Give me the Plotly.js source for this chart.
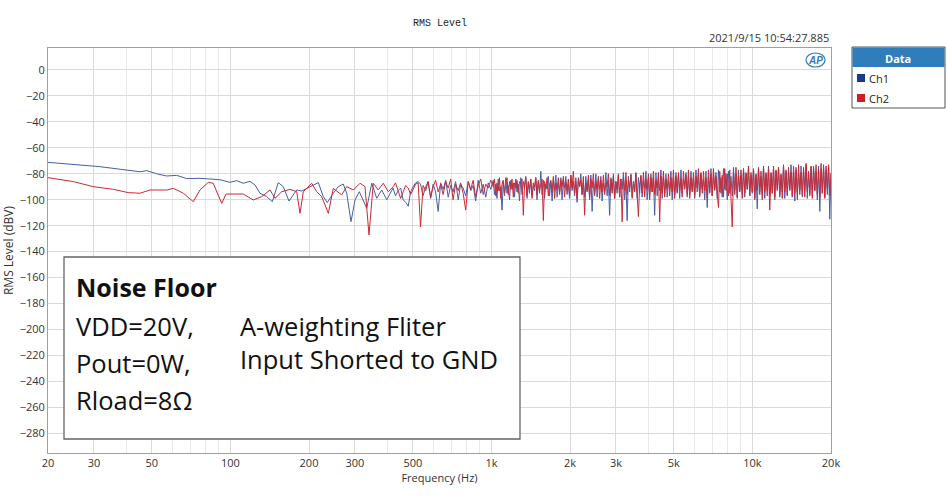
<!DOCTYPE html>
<html>
<head>
<meta charset="utf-8">
<script src="https://cdn.plot.ly/plotly-3.0.1.min.js"></script>
<style>html,body{margin:0;padding:0;background:#fff;}#chart{width:947px;height:500px;}</style>
</head>
<body>
<div id="chart"></div>
<script>
// ---- data ----
const freqLow1 = [20,22.2,25,31.6,37.8,45,47.8,52.2,57,62.2,68,76.4,83.5,91.2,99.6,105.7,112,118.8,124.2,129.8,137.7,144.7,152.5,159.4,167.6,179.5,187.6,196,201.8,210.8,217.1,226.9,235,247.8,259,270.7,278.9,289.7,300.1,311.7,322.9,332.8,347.8,363.5,379.9,397.2];
const ch1Low = [-71.2,-72,-73,-74.5,-76.5,-78.4,-77.6,-80,-81.7,-81.2,-83.7,-83.5,-84,-84.6,-86.6,-85.3,-87.3,-85.8,-88.6,-95,-97.6,-101.5,-86.8,-89.9,-101,-92.5,-93.3,-91.5,-89.9,-88.6,-86.8,-97.6,-102.2,-95,-89.9,-87.9,-95,-116.9,-100.2,-93.8,-100,-106.6,-87.3,-98.9,-92.5,-100];

const freqLow2 = [20,25,29.8,35.6,40.6,45,49.2,57,60.4,66,72.1,76.4,82.3,85.9,92.6,96.2,112,122.4,131.8,141.8,148.2,157.2,169.1,179.5,184.7,190.2,204.8,214,223.7,237.2,247.8,266.8,278.9,295.6,313.6,327.8,339.6,352.6,368.5,385.1,402.6];
const ch2Low = [-83,-86,-89.9,-92,-94.5,-95,-92.5,-92.5,-91.2,-95,-101.5,-92.5,-86.6,-87.3,-102.8,-95.6,-95.6,-100.2,-97.6,-92.5,-98.9,-93.8,-92,-93.8,-110.5,-93.8,-87.3,-93.8,-97.6,-110.5,-91.2,-96.3,-89.9,-92.5,-87.3,-89.9,-127.2,-87.3,-92.5,-87.3,-93.8];

const freqMid = [420,429,439,449,459,469,480,490,501,512,
524,535,547,560,572,585,598,611,625,639,
653,668,683,698,713,729,746,762,779,797,
815,833,851,870,890,910,930,951,972,994];
const ch1Mid = [-91,-97,-93,-91,-100,-102,-105,-94,-90,-87,
-86,-88,-97,-90,-86,-99,-88,-94,-109,-87,
-92,-85,-98,-89,-94,-86,-100,-88,-91,-97,
-86,-93,-89,-101,-85,-95,-88,-98,-87,-92];
const ch2Mid = [-90,-87,-93,-99,-94,-89,-91,-96,-92,-88,
-87,-121,-89,-93,-86,-98,-90,-85,-94,-88,
-96,-86,-91,-84,-100,-88,-93,-87,-95,-108,
-86,-92,-85,-98,-89,-84,-96,-88,-91,-85];

const freqTop = [1016,1027,1039,1050,1062,1074,1086,1098,1110,1122,
1135,1147,1160,1173,1186,1199,1213,1226,1240,1253,
1267,1281,1296,1310,1325,1339,1354,1369,1384,1399,
1415,1431,1447,1463,1479,1495,1512,1529,1546,1563,
1581,1598,1616,1634,1652,1670,1689,1708,1727,1746,
1765,1785,1805,1825,1845,1865,1886,1907,1928,1949,
1971,1993,2015,2037,2060,2083,2106,2129,2153,2177,
2201,2225,2250,2275,2300,2326,2352,2378,2404,2431,
2458,2485,2513,2541,2569,2597,2626,2655,2685,2715,
2745,2775,2806,2837,2869,2901,2933,2965,2998,3031,
3065,3099,3134,3169,3204,3239,3275,3311,3348,3385,
3423,3461,3499,3538,3577,3617,3657,3698,3739,3780,
3822,3865,3908,3951,3995,4039,4084,4129,4175,4221,
4268,4316,4364,4412,4461,4510,4560,4611,4662,4714,
4766,4819,4873,4927,4981,5037,5093,5149,5206,5264,
5322,5381,5441,5502,5563,5625,5687,5750,5814,5878,
5943,6009,6076,6143,6211,6280,6350,6421,6492,6564,
6636,6710,6785,6860,6936,7013,7091,7170,7249,7330,
7411,7494,7577,7661,7746,7832,7919,8007,8096,8186,
8276,8368,8461,8555,8650,8746,8843,8941,9040,9141,
9242,9345,9448,9553,9659,9766,9875,9985,10095,10207,
10320,10435,10551,10668,10786,10906,11027,11150,11273,11398,
11525,11653,11782,11913,12045,12179,12314,12451,12589,12729,
12870,13013,13157,13303,13451,13600,13751,13904,14058,14214,
14372,14532,14693,14856,15021,15188,15356,15527,15699,15873,
16049,16228,16408,16590,16774,16960,17148,17338,17531,17726,
17922,18121,18322,18526,18731,18939,19149,19362,19577,19788,
20000];

const ch1Top = [-85,-96,-88,-99,-84,-93,-90,-108,-86,-97,
-83,-95,-89,-100,-85,-92,-87,-98,-84,-94,
-88,-101,-83,-96,-86,-91,-82,-99,-87,-95,
-84,-97,-89,-93,-83,-100,-86,-95,-78,-96,
-85,-99,-88,-92,-82,-97,-86,-101,-84,-93,
-81,-98,-87,-94,-83,-100,-85,-91,-82,-96,
-88,-99,-81,-93,-86,-97,-83,-102,-85,-90,
-80,-96,-87,-98,-82,-94,-85,-100,-81,-109,
-86,-95,-80,-98,-84,-92,-82,-101,-87,-94,
-79,-97,-85,-112,-83,-93,-80,-99,-86,-95,
-81,-98,-84,-92,-79,-100,-85,-116,-82,-94,
-80,-97,-86,-93,-79,-99,-83,-95,-81,-98,
-85,-91,-78,-100,-84,-96,-80,-94,-83,-112,
-79,-97,-84,-93,-77,-99,-82,-95,-80,-98,
-85,-92,-78,-100,-83,-96,-79,-94,-81,-99,
-77,-95,-84,-91,-79,-98,-82,-96,-78,-93,
-83,-99,-77,-94,-81,-97,-79,-92,-84,-100,
-78,-106,-82,-95,-76,-97,-81,-93,-79,-99,
-77,-94,-83,-98,-76,-92,-80,-100,-78,-95,
-82,-97,-75,-93,-80,-99,-77,-94,-81,-96,
-76,-98,-79,-92,-75,-97,-81,-95,-77,-100,
-80,-107,-76,-94,-82,-96,-75,-99,-79,-93,
-74,-97,-80,-95,-76,-100,-78,-92,-75,-98,
-81,-94,-74,-99,-77,-96,-79,-93,-73,-97,
-78,-101,-75,-94,-80,-96,-74,-98,-77,-92,
-73,-99,-79,-95,-75,-97,-74,-93,-78,-100,
-74,-109,-76,-95,-73,-98,-77,-96,-74,-115,
-80];

const ch2Top = [-90,-84,-97,-87,-93,-83,-99,-88,-85,-95,
-89,-83,-96,-86,-92,-84,-98,-87,-91,-85,
-95,-86,-88,-84,-112,-89,-83,-97,-86,-92,
-84,-99,-87,-90,-83,-96,-85,-93,-88,-84,
-116,-86,-91,-83,-97,-88,-85,-94,-82,-99,
-87,-92,-83,-96,-85,-90,-82,-98,-86,-93,
-84,-97,-81,-91,-78,-95,-86,-99,-83,-90,
-85,-96,-82,-112,-87,-93,-81,-98,-84,-91,
-80,-97,-86,-92,-82,-99,-85,-94,-81,-96,
-87,-90,-80,-97,-84,-95,-82,-99,-86,-92,
-80,-98,-84,-117,-83,-93,-79,-96,-85,-91,
-81,-99,-86,-94,-80,-97,-113,-88,-82,-95,
-79,-98,-84,-92,-80,-100,-83,-94,-78,-96,
-85,-91,-79,-117,-82,-95,-78,-98,-84,-92,
-80,-97,-83,-94,-77,-99,-82,-95,-79,-93,
-84,-98,-78,-92,-81,-96,-77,-99,-83,-94,
-79,-97,-82,-91,-76,-98,-80,-95,-78,-93,
-83,-99,-77,-94,-80,-97,-76,-92,-82,-96,
-106,-78,-95,-81,-98,-76,-93,-80,-97,-77,
-94,-121,-79,-96,-75,-98,-81,-93,-77,-99,
-76,-95,-80,-92,-74,-97,-79,-94,-76,-99,
-81,-93,-75,-96,-78,-100,-74,-94,-80,-97,
-76,-108,-79,-95,-74,-98,-77,-93,-75,-96,
-80,-99,-73,-94,-78,-97,-75,-92,-79,-98,
-74,-95,-77,-100,-73,-93,-79,-96,-75,-98,
-72,-94,-78,-97,-74,-99,-76,-93,-73,-96,
-77,-98,-72,-95,-75,-99,-74,-92,-73,-97,
-79];

const xTickVals = [20,30,50,100,200,300,500,1000,2000,3000,5000,10000,20000];
const xTickText = ['20','30','50','100','200','300','500','1k','2k','3k','5k','10k','20k'];
const xMinorVals = [40,60,70,80,90,400,600,700,800,900,4000,6000,7000,8000,9000];
const seriesNames = ['Ch1','Ch2'];
const seriesColors = ['#4560a8','#cc2a33'];
const legendSwatch = ['#1b3a8c','#cc1f27'];

// ---- layout helpers (pixel -> paper) ----
const L = 48, R = 831, T = 48, B = 453, W = 947, H = 500;
const px = p => (p - L) / (R - L);
const py = p => (B - p) / (B - T);

const traces = [
  {x: freqLow1.concat(freqMid, freqTop), y: ch1Low.concat(ch1Mid, ch1Top), name: seriesNames[0], type: 'scatter', mode: 'lines',
   line: {color: seriesColors[0], width: 1}},
  {x: freqLow2.concat(freqMid, freqTop), y: ch2Low.concat(ch2Mid, ch2Top), name: seriesNames[1], type: 'scatter', mode: 'lines',
   line: {color: seriesColors[1], width: 1}}
];

const tickFont = {family: 'Open Sans, sans-serif', size: 11, color: '#333'};
const boxFont = {family: 'Open Sans, sans-serif', size: 25.5, color: '#111'};
const boxFontBold = {family: 'Open Sans, sans-serif', size: 25, color: '#111'};

const annotations = [
  {xref: 'paper', yref: 'paper', x: px(831), y: py(38), xanchor: 'right', yanchor: 'middle',
   text: '2021/9/15 10:54:27.885', showarrow: false, font: {family: 'Open Sans, sans-serif', size: 11, color: '#333'}},
  {xref: 'paper', yref: 'paper', x: px(815), y: py(60), xanchor: 'center', yanchor: 'middle',
   text: '<b><i>AP</i></b>', showarrow: false, font: {family: 'Liberation Sans, sans-serif', size: 10, color: '#2f7ab8'}},
  // legend
  {xref: 'paper', yref: 'paper', x: px(898), y: py(58), xanchor: 'center', yanchor: 'middle',
   text: '<b>Data</b>', showarrow: false, font: {family: 'Open Sans, sans-serif', size: 11, color: '#fff'}},
  {xref: 'paper', yref: 'paper', x: px(867), y: py(78), xanchor: 'left', yanchor: 'middle',
   text: seriesNames[0], showarrow: false, font: {family: 'Open Sans, sans-serif', size: 11, color: '#222'}},
  {xref: 'paper', yref: 'paper', x: px(867), y: py(98), xanchor: 'left', yanchor: 'middle',
   text: seriesNames[1], showarrow: false, font: {family: 'Open Sans, sans-serif', size: 11, color: '#222'}},
  // text box
  {xref: 'paper', yref: 'paper', x: px(74), y: py(287), xanchor: 'left', yanchor: 'middle',
   text: '<b>Noise Floor</b>', showarrow: false, font: boxFontBold},
  {xref: 'paper', yref: 'paper', x: px(74), y: py(326), xanchor: 'left', yanchor: 'middle',
   text: 'VDD=20V,', showarrow: false, font: boxFont},
  {xref: 'paper', yref: 'paper', x: px(74), y: py(363), xanchor: 'left', yanchor: 'middle',
   text: 'Pout=0W,', showarrow: false, font: boxFont},
  {xref: 'paper', yref: 'paper', x: px(74), y: py(400), xanchor: 'left', yanchor: 'middle',
   text: 'Rload=8Ω', showarrow: false, font: boxFont},
  {xref: 'paper', yref: 'paper', x: px(238), y: py(326), xanchor: 'left', yanchor: 'middle',
   text: 'A-weighting Fliter', showarrow: false, font: boxFont},
  {xref: 'paper', yref: 'paper', x: px(238), y: py(359), xanchor: 'left', yanchor: 'middle',
   text: 'Input Shorted to GND', showarrow: false, font: boxFont}
];

const shapes = [
  // annotation box
  {type: 'rect', xref: 'paper', yref: 'paper', x0: px(64), x1: px(520), y0: py(257), y1: py(439),
   fillcolor: '#fff', line: {color: '#666', width: 1.3}, layer: 'above'},
  // legend box
  {type: 'rect', xref: 'paper', yref: 'paper', x0: px(852), x1: px(945), y0: py(47), y1: py(108),
   fillcolor: '#fff', line: {color: '#555', width: 1}, layer: 'above'},
  {type: 'rect', xref: 'paper', yref: 'paper', x0: px(852.5), x1: px(944.5), y0: py(47.5), y1: py(67),
   fillcolor: '#2f7dba', line: {width: 0}, layer: 'above'},
  {type: 'rect', xref: 'paper', yref: 'paper', x0: px(857), x1: px(865), y0: py(74), y1: py(82),
   fillcolor: legendSwatch[0], line: {width: 0}, layer: 'above'},
  {type: 'rect', xref: 'paper', yref: 'paper', x0: px(857), x1: px(865), y0: py(94), y1: py(102),
   fillcolor: legendSwatch[1], line: {width: 0}, layer: 'above'},
  // AP logo swoosh
  {type: 'circle', xref: 'paper', yref: 'paper', x0: px(806), x1: px(825), y0: py(53), y1: py(67),
   fillcolor: 'rgba(0,0,0,0)', line: {color: '#2f7ab8', width: 1.2}, layer: 'above'}
];

const layout = {
  width: W, height: H,
  margin: {l: L, r: W - R, t: T, b: H - B, pad: 0},
  paper_bgcolor: '#fff', plot_bgcolor: '#fff',
  showlegend: false,
  title: {text: 'RMS Level', x: 440 / W, xanchor: 'center', xref: 'container', y: 1 - 22 / H, yanchor: 'middle', yref: 'container',
          font: {family: 'Liberation Mono, monospace', size: 10, color: '#222'}},
  xaxis: {
    type: 'log', range: [Math.log10(20), Math.log10(20000)],
    tickmode: 'array', tickvals: xTickVals, ticktext: xTickText,
    showgrid: true, gridcolor: '#dadada', gridwidth: 1,
    minor: {tickmode: 'array', tickvals: xMinorVals, showgrid: true, gridcolor: '#e8e8e8', ticks: ''},
    showline: true, linecolor: '#a0a0a0', linewidth: 1, mirror: true,
    ticks: '', tickfont: tickFont, zeroline: false,
    title: {text: 'Frequency (Hz)', font: {family: 'Open Sans, sans-serif', size: 11, color: '#333'}, standoff: 0}
  },
  yaxis: {
    range: [-295.2, 16.95], tickmode: 'linear', tick0: 0, dtick: 20,
    showgrid: true, gridcolor: '#dadada', gridwidth: 1,
    showline: true, linecolor: '#a0a0a0', linewidth: 1, mirror: true,
    ticks: '', tickfont: tickFont, zeroline: false,
    title: {text: 'RMS Level (dBV)', font: {family: 'Open Sans, sans-serif', size: 12, color: '#333'}, standoff: 3}
  },
  annotations: annotations,
  shapes: shapes
};

Plotly.newPlot('chart', traces, layout, {displayModeBar: false, staticPlot: true});
</script>
</body>
</html>
